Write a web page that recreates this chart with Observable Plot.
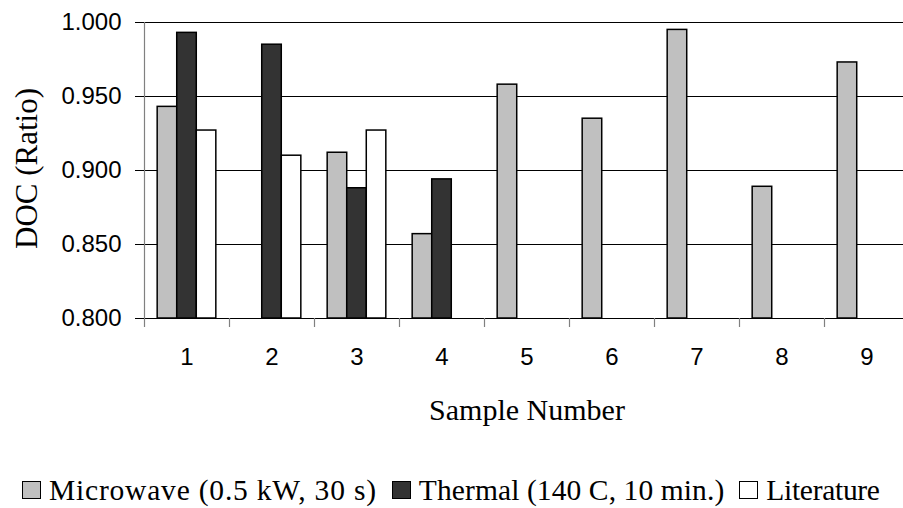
<!DOCTYPE html>
<html>
<head>
<meta charset="utf-8">
<script src="https://cdn.jsdelivr.net/npm/d3@7"></script>
<script src="https://cdn.jsdelivr.net/npm/@observablehq/plot@0.6"></script>
<style>
  html, body { margin: 0; padding: 0; background: #fff; overflow: hidden; }
  #chart { width: 903px; height: 508px; position: relative; }
  #legend {
    height: 68px; box-sizing: border-box; padding-top: 32px; padding-left: 22px;
    display: flex; align-items: center; white-space: nowrap;
    font-family: 'Liberation Serif', 'Times New Roman', serif; font-size: 29.5px; color: #000;
  }
  #legend .sw { width: 17px; height: 16px; border: 1px solid #000; margin-right: 8px; flex: none; }
  #legend .item { display: flex; align-items: center; margin-right: 15px; }
  #legend .item:nth-child(1) span { letter-spacing: 0.8px; }
  #legend .item:nth-child(2) span { letter-spacing: 0.1px; }
  #legend .item:nth-child(3) span { letter-spacing: -0.3px; }
</style>
</head>
<body>
<div id="chart"></div>
<script>
const samples = [1, 2, 3, 4, 5, 6, 7, 8, 9];
const microwave = [0.943, null, 0.912, 0.857, 0.958, 0.935, 0.995, 0.889, 0.973];
const thermal = [0.993, 0.985, 0.888, 0.894, null, null, null, null, null];
const literature = [0.927, 0.910, 0.927, null, null, null, null, null, null];
const seriesNames = ["Microwave (0.5 kW, 30 s)", "Thermal (140 C, 10 min.)", "Literature"];
const seriesColors = ["#c0c0c0", "#333333", "#ffffff"];
const yTicks = [0.800, 0.850, 0.900, 0.950, 1.000];
const yLabel = "DOC (Ratio)";
const xLabel = "Sample Number";

const seriesValues = [microwave, thermal, literature];
const rows = [];
seriesValues.forEach((vals, k) => {
  vals.forEach((v, i) => {
    if (v != null) rows.push({sample: samples[i], k, value: v, series: seriesNames[k]});
  });
});

const barW = 0.23;
const groupStart = -0.345;
const boundaries = samples.map(s => s - 0.5).concat([samples[samples.length - 1] + 0.5]);
const serif = "'Liberation Serif', 'Times New Roman', serif";

const chart = Plot.plot({
  width: 903,
  height: 440,
  marginLeft: 144,
  marginRight: -6,
  marginTop: 22,
  marginBottom: 122,
  style: {fontFamily: "'Liberation Sans', Arial, sans-serif", fontSize: "24px", color: "#000", background: "#fff"},
  x: {domain: [0.5, 9.5]},
  y: {domain: [0.8, 1.0]},
  color: {type: "identity"},
  marks: [
    Plot.ruleY(yTicks.slice(1), {stroke: "#000", strokeWidth: 1}),
    Plot.rectY(rows, {
      x1: d => d.sample + groupStart + d.k * barW,
      x2: d => d.sample + groupStart + (d.k + 1) * barW,
      y1: 0.8,
      y2: "value",
      fill: d => seriesColors[d.k],
      stroke: "#000",
      strokeWidth: 1.5
    }),
    Plot.ruleY([yTicks[0]], {stroke: "#000", strokeWidth: 1.2}),
    Plot.ruleX([boundaries[0]], {stroke: "#808080", strokeWidth: 1.2}),
    Plot.axisX(boundaries, {tickSize: 9, tickFormat: () => "", stroke: "#808080", strokeWidth: 1.2, label: null}),
    Plot.axisX(samples, {tickSize: 0, tickPadding: 29, tickFormat: d => String(d), fontSize: 24, label: null}),
    Plot.axisY(yTicks, {tickSize: 9, tickPadding: 14, tickFormat: d3.format(".3f"), fontSize: 24, label: null}),
    Plot.text([yLabel], {
      frameAnchor: "left", textAnchor: "middle", lineAnchor: "middle", rotate: -90, dx: -117, dy: -2,
      fontFamily: serif, fontSize: 31, fill: "#000"
    }),
    Plot.text([xLabel], {
      frameAnchor: "bottom", textAnchor: "middle", lineAnchor: "bottom", dy: 101,
      fontFamily: serif, fontSize: 30, fill: "#000"
    })
  ]
});

const container = document.getElementById("chart");
container.appendChild(chart);

const legend = document.createElement("div");
legend.id = "legend";
seriesNames.forEach((name, k) => {
  const item = document.createElement("div");
  item.className = "item";
  const sw = document.createElement("div");
  sw.className = "sw";
  sw.style.background = seriesColors[k];
  const label = document.createElement("span");
  label.textContent = name;
  item.appendChild(sw);
  item.appendChild(label);
  legend.appendChild(item);
});
container.appendChild(legend);
</script>
</body>
</html>
